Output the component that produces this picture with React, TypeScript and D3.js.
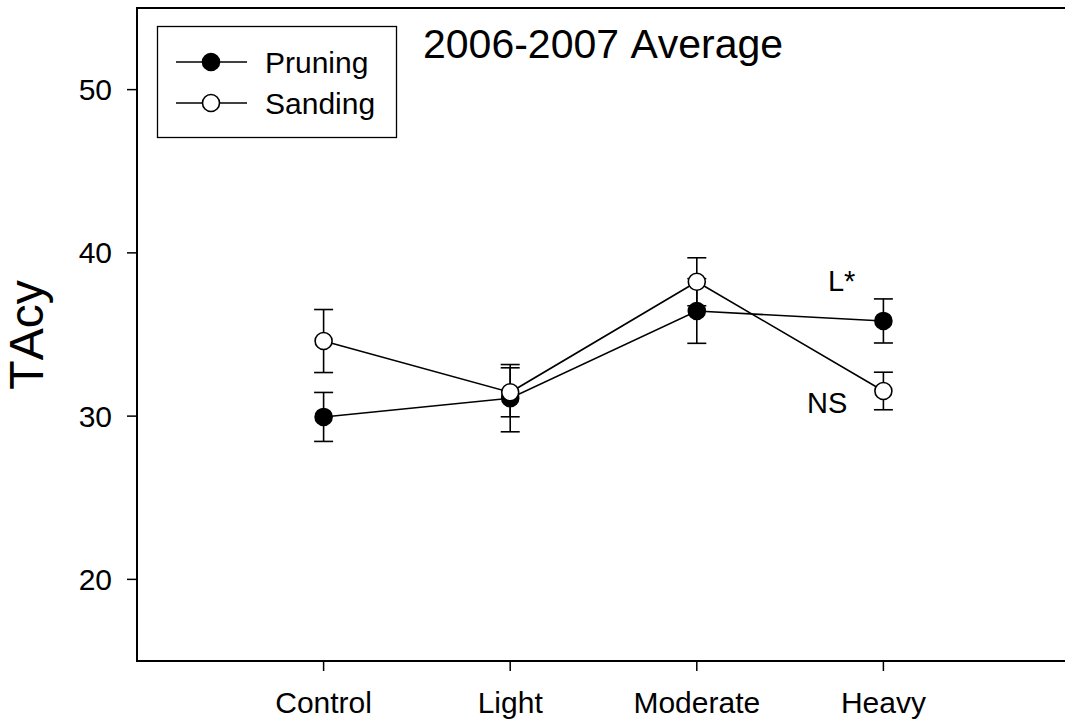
import React from "react";
import * as d3 from "d3";

const categories = ["Control", "Light", "Moderate", "Heavy"];
const pruningMean = [29.95, 31.1, 36.44, 35.83];
const pruningErr = [1.5, 2.06, 1.98, 1.35];
const sandingMean = [34.6, 31.46, 38.23, 31.54];
const sandingErr = [1.93, 1.5, 1.47, 1.15];
const yTicks = [20, 30, 40, 50];
const seriesNames = ["Pruning", "Sanding"];
const titleText = "2006-2007 Average";
const yLabel = "TAcy";
const annotations = [
  { text: "L*", cat: "Heavy", value: 37.68, dx: -28 },
  { text: "NS", cat: "Heavy", value: 30.21, dx: -36 },
];

const W = 1065;
const H = 724;
const left = 137;
const top = 8;
const bottom = 661;
const right = 1070;
const FONT = "'Liberation Sans', Arial, Helvetica, sans-serif";

export default function App() {
  const x = d3.scaleLinear().domain([-1, 4]).range([left, right]);
  const y = d3.scaleLinear().domain([15, 55]).range([bottom, top]);
  const line = d3
    .line<number>()
    .x((_, i) => x(i))
    .y((d) => y(d));

  const series = [
    { name: seriesNames[0], mean: pruningMean, err: pruningErr, fill: "#000" },
    { name: seriesNames[1], mean: sandingMean, err: sandingErr, fill: "#fff" },
  ];
  const capW = 9.5;
  const r = 8.5;

  return (
    <svg
      width={W}
      height={H}
      style={{ position: "absolute", left: 0, top: 0, background: "#fff", fontKerning: "none" }}
      fontFamily={FONT}
    >
      {/* axes */}
      <line x1={left} y1={top} x2={left} y2={bottom + 1} stroke="#000" strokeWidth={2} />
      <line x1={left - 1} y1={bottom} x2={W} y2={bottom} stroke="#000" strokeWidth={2} />
      <line x1={left - 1} y1={top} x2={W} y2={top} stroke="#000" strokeWidth={2} />

      {yTicks.map((t) => (
        <g key={t}>
          <line x1={left - 10} x2={left} y1={y(t)} y2={y(t)} stroke="#000" strokeWidth={1.5} />
          <text x={112} y={y(t)} dy="0.35em" textAnchor="end" fontSize={30}>
            {t}
          </text>
        </g>
      ))}
      {categories.map((c, i) => (
        <g key={c}>
          <line x1={x(i)} x2={x(i)} y1={bottom} y2={bottom + 10} stroke="#000" strokeWidth={1.5} />
          <text x={x(i)} y={713} textAnchor="middle" fontSize={30}>
            {c}
          </text>
        </g>
      ))}

      <text
        transform={`translate(43,335) rotate(-90)`}
        textAnchor="middle"
        fontSize={48}
      >
        {yLabel}
      </text>

      <text x={423} y={58} textAnchor="start" fontSize={41}>
        {titleText}
      </text>

      {/* series */}
      {series.map((s) => (
        <g key={s.name}>
          <path d={line(s.mean) || ""} fill="none" stroke="#000" strokeWidth={1.6} />
          {s.mean.map((m, i) => (
            <g key={i} stroke="#000" strokeWidth={1.6}>
              <line x1={x(i)} x2={x(i)} y1={y(m - s.err[i])} y2={y(m + s.err[i])} />
              <line x1={x(i) - capW} x2={x(i) + capW} y1={y(m + s.err[i])} y2={y(m + s.err[i])} />
              <line x1={x(i) - capW} x2={x(i) + capW} y1={y(m - s.err[i])} y2={y(m - s.err[i])} />
            </g>
          ))}
        </g>
      ))}
      {series.map((s) =>
        s.mean.map((m, i) => (
          <circle
            key={s.name + i}
            cx={x(i)}
            cy={y(m)}
            r={r}
            fill={s.fill}
            stroke="#000"
            strokeWidth={1.6}
          />
        ))
      )}

      {annotations.map((a) => (
        <text
          key={a.text}
          x={x(categories.indexOf(a.cat)) + a.dx}
          y={y(a.value)}
          textAnchor="end"
          fontSize={29}
        >
          {a.text}
        </text>
      ))}

      {/* legend */}
      <rect x={157.5} y={26.5} width={239} height={111} fill="#fff" stroke="#000" strokeWidth={1.3} />
      {series.map((s, i) => {
        const ly = 62 + i * 41;
        return (
          <g key={s.name}>
            <line x1={176} x2={247} y1={ly} y2={ly} stroke="#000" strokeWidth={1.6} />
            <circle cx={211} cy={ly} r={r} fill={s.fill} stroke="#000" strokeWidth={1.6} />
            <text x={265} y={ly} dy="0.35em" fontSize={30}>
              {s.name}
            </text>
          </g>
        );
      })}
    </svg>
  );
}
